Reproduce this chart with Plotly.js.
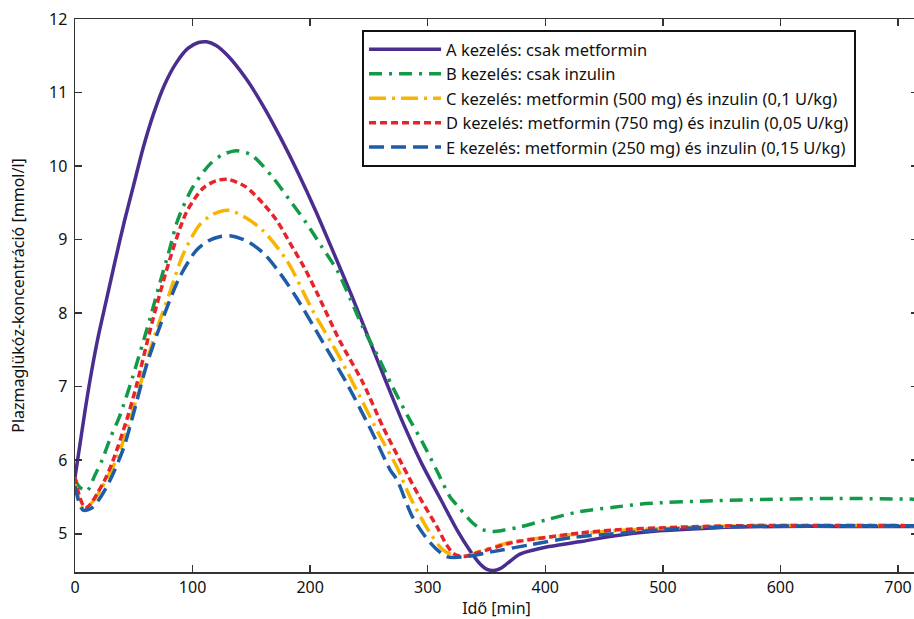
<!DOCTYPE html>
<html>
<head>
<meta charset="utf-8">
<script src="https://cdn.plot.ly/plotly-3.0.1.min.js"></script>
<style>
html,body{margin:0;padding:0;background:#fff;overflow:hidden;width:914px;height:619px;}
#chart{width:918px;height:619px;}
</style>
</head>
<body>
<div id="chart"></div>
<script>
// Series names
const seriesNames = [
  "A kezelés: csak metformin",
  "B kezelés: csak inzulin",
  "C kezelés: metformin (500 mg) és inzulin (0,1 U/kg)",
  "D kezelés: metformin (750 mg) és inzulin (0,05 U/kg)",
  "E kezelés: metformin (250 mg) és inzulin (0,15 U/kg)"
];

// A: only metformin
const xA = [0,2,5,9,14,20,27,34,42,50,58,67,76,86,96,105,112,120,130,145,160,175,190,205,220,235,250,265,280,295,310,325,336,344,350,356,362,368,378,390,401,429,458,497,543,600,650,717];
const yA = [5.77,5.98,6.3,6.72,7.2,7.7,8.2,8.7,9.25,9.75,10.25,10.72,11.1,11.4,11.6,11.68,11.69,11.64,11.5,11.2,10.82,10.38,9.9,9.38,8.82,8.25,7.65,7.05,6.47,5.95,5.5,5.05,4.77,4.6,4.52,4.5,4.53,4.6,4.72,4.78,4.82,4.89,4.97,5.04,5.08,5.1,5.1,5.1];

// B: only insulin
const xB = [0,3,10,17,23,30,38,49,64,72,81,87,100,115,125,137,150,168,182,197,210,223,234,245,258,270,283,296,308,319,327,338,346,355,365,378,401,429,458,486,543,600,650,717];
const yB = [5.75,5.65,5.58,5.8,6.0,6.3,6.6,7.13,7.94,8.4,8.9,9.25,9.71,10.03,10.15,10.21,10.15,9.85,9.55,9.22,8.9,8.58,8.2,7.8,7.4,7.0,6.6,6.23,5.85,5.5,5.35,5.15,5.06,5.03,5.05,5.09,5.19,5.3,5.36,5.41,5.45,5.47,5.48,5.47];

// C: metformin 500 mg + insulin 0.1 U/kg
const xC = [0,4,7,13,20,27,35,47,55,63,70,81,92,106,118,131,145,160,180,202,225,245,259,274,285,302,313,325,335,344,372,401,429,458,514,571,717];
const yC = [5.68,5.45,5.36,5.4,5.55,5.75,6.0,6.55,7.0,7.45,7.8,8.3,8.8,9.2,9.35,9.4,9.3,9.12,8.72,8.04,7.4,6.78,6.34,5.9,5.5,5.01,4.78,4.69,4.7,4.76,4.89,4.95,5.0,5.04,5.08,5.11,5.11];

// D: metformin 750 mg + insulin 0.05 U/kg
const xD = [0,4,8.5,13,19,25,32,44,52,66,81,95,109,120,130,145,160,172,183,195,206,225,245,262,278,293,308,316,322,330,344,372,401,429,458,514,571,717];
const yD = [5.77,5.5,5.35,5.4,5.55,5.72,5.98,6.55,7.0,7.9,8.75,9.38,9.7,9.8,9.82,9.72,9.49,9.25,8.95,8.62,8.27,7.63,7.05,6.45,5.95,5.5,5.09,4.85,4.73,4.69,4.75,4.88,4.95,5.01,5.05,5.09,5.11,5.11];

// E: metformin 250 mg + insulin 0.15 U/kg
const xE = [0,3,7,15,27,41,50,61,75,89,103,113,123,133,146,160,174,188,211,231,253,268,274,287,302,316,333,353,387,423,458,514,571,717];
const yE = [5.65,5.45,5.32,5.36,5.64,6.15,6.65,7.3,7.94,8.49,8.85,8.98,9.04,9.05,8.98,8.82,8.55,8.22,7.6,7.05,6.37,5.87,5.73,5.23,4.88,4.69,4.69,4.75,4.85,4.95,5.0,5.07,5.1,5.11];

// Tick labels
const xTicks = [0,100,200,300,400,500,600,700];
const yTicks = [5,6,7,8,9,10,11,12];

const xs = [xA,xB,xC,xD,xE];
const ys = [yA,yB,yC,yD,yE];
const colors = ["#4b2d8f","#129a48","#f7b500","#e6252b","#1e5ba8"];
const dashes = ["solid","13px,7px,3px,7px","17px,6px,3px,6px","7px,4px","15px,7px"];

const traces = xs.map((x,i)=>({
  x: x, y: ys[i], type: "scatter", mode: "lines",
  name: seriesNames[i], legendgroup: "g"+i,
  line: {color: colors[i], width: 3.5, dash: dashes[i], shape: "spline", smoothing: 0.8}
}));

const font = "Noto Sans, Open Sans, DejaVu Sans, sans-serif";

const layout = {
  width: 918, height: 619,
  margin: {l: 75, r: 0, t: 19, b: 47, pad: 0},
  paper_bgcolor: "#fff", plot_bgcolor: "#fff",
  font: {family: font, size: 16, color: "#111"},
  showlegend: true,
  legend: {
    x: 0.3405, y: 0.98, xanchor: "left", yanchor: "top",
    bgcolor: "#fff", bordercolor: "#111", borderwidth: 2,
    font: {family: font, size: 16.5, color: "#111"},
    itemwidth: 72, tracegroupgap: 0, traceorder: "normal"
  },
  xaxis: {
    range: [0, 717], tickvals: xTicks, ticktext: xTicks.map(String),
    ticks: "inside", ticklen: 7, tickwidth: 1.5, tickcolor: "#333",
    showline: true, linecolor: "#333", linewidth: 1.5, mirror: "ticks",
    showgrid: false, zeroline: false,
    tickfont: {family: font, size: 16, color: "#111"},
    title: {text: "Idő [min]", font: {family: font, size: 16, color: "#111"}, standoff: 9}
  },
  yaxis: {
    range: [4.48, 12], tickvals: yTicks, ticktext: yTicks.map(String),
    ticks: "inside", ticklen: 7, tickwidth: 1.5, tickcolor: "#333",
    showline: true, linecolor: "#333", linewidth: 1.5, mirror: "ticks",
    showgrid: false, zeroline: false, ticklabelstandoff: 3,
    tickfont: {family: font, size: 16, color: "#111"},
    title: {text: "Plazmaglükóz-koncentráció [mmol/l]", font: {family: font, size: 16, color: "#111"}, standoff: 20}
  }
};

Plotly.newPlot("chart", traces, layout, {displayModeBar: false, staticPlot: true});
</script>
</body>
</html>
